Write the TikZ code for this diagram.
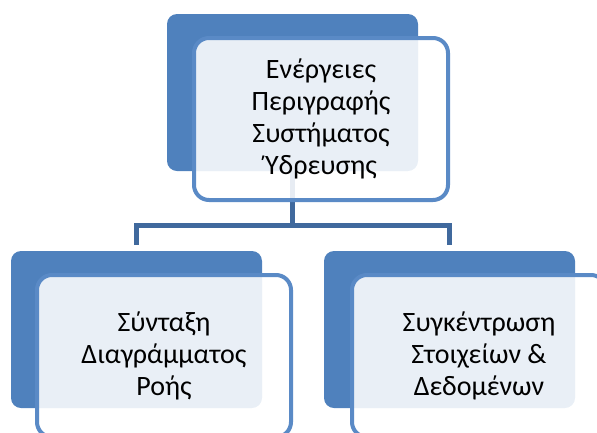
\documentclass[tikz,border=0pt]{standalone}
\usepackage{fontspec}
\setmainfont{Carlito}
\usetikzlibrary{positioning}

\definecolor{boxblue}{HTML}{4F81BD}
\definecolor{edgeblue}{HTML}{5A8AC6}
\definecolor{linkblue}{HTML}{40699D}

\begin{document}
\begin{tikzpicture}[x=1pt, y=-1pt,
       back/.style = {rectangle, rounded corners=10pt, fill=boxblue,
                      minimum width=251pt, minimum height=157pt, inner sep=0pt},
      front/.style = {rectangle, rounded corners=15pt, draw=edgeblue, line width=4pt,
                      fill=white, fill opacity=0.88, text opacity=1, text=black,
                      minimum width=254pt, minimum height=162pt, inner sep=0pt,
                      align=center, font=\fontsize{28}{32}\selectfont},
       link/.style = {draw=linkblue, line width=5pt}
                        ]
\useasboundingbox (0,0) rectangle (597,432);
\clip (0,0) rectangle (597,432);

\node (top_b) at (292.5,92.5) [back] {};
\node (left_b) at (136.5,329.5) [back] {};
\node (right_b) at (449.5,329.5) [back] {};

\coordinate (j) at (292.5,225);

% connectors
\path[link] (top_b.south) -- (j);
\path[link, shorten <=6pt, shorten >=6pt] (left_b.north) |- (j) -| (right_b.north);

\node (top_f) at (321,119) [front] {Ενέργειες\\Περιγραφής\\Συστήματος\\Ύδρευσης};
\node (left_f) at (164,356) [front] {Σύνταξη\\Διαγράμματος\\Ροής};
\node (right_f) at (479,356) [front] {Συγκέντρωση\\Στοιχείων \&\\Δεδομένων};
\end{tikzpicture}
\end{document}
